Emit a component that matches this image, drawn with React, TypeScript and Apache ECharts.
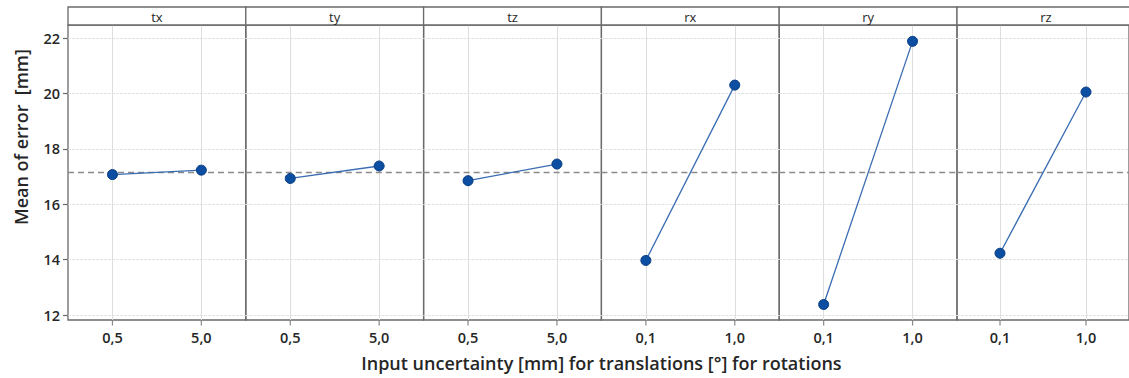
import React, { useEffect, useRef } from 'react';
import * as echarts from 'echarts';

const factors = ['tx', 'ty', 'tz', 'rx', 'ry', 'rz'];
const translationLevels = ['0,5', '5,0'];
const rotationLevels = ['0,1', '1,0'];
const txMeans = [17.07, 17.23];
const tyMeans = [16.93, 17.38];
const tzMeans = [16.85, 17.45];
const rxMeans = [13.97, 20.3];
const ryMeans = [12.38, 21.88];
const rzMeans = [14.23, 20.05];
const yTicks = [12, 14, 16, 18, 20, 22];
const yTitle = 'Mean of error  [mm]';
const xTitle = 'Input uncertainty [mm] for translations [°] for rotations';

const panelMeans = [txMeans, tyMeans, tzMeans, rxMeans, ryMeans, rzMeans];
const panelLevels = [
  translationLevels,
  translationLevels,
  translationLevels,
  rotationLevels,
  rotationLevels,
  rotationLevels,
];

const FONT = '"Open Sans", "Noto Sans", sans-serif';
const LEFT = 68;
const PANEL_W = 177.8;
const STRIP_TOP = 7;
const TOP = 25;
const BOTTOM = 320;
const Y_MIN = 11.82;
const Y_MAX = 22.47;
const TEXT = '#262626';
const BORDER = '#6a6a6a';

export default function App() {
  const ref = useRef<HTMLDivElement>(null);

  useEffect(() => {
    if (!ref.current) return;
    const chart = echarts.init(ref.current, null, { renderer: 'svg' });
    const all = panelMeans.flat();
    const grandMean = all.reduce((a, b) => a + b, 0) / all.length;

    const grid = factors.map((_, i) => ({
      left: LEFT + i * PANEL_W,
      top: TOP,
      width: PANEL_W,
      height: BOTTOM - TOP,
      show: true,
      borderColor: BORDER,
      borderWidth: 1.3,
      backgroundColor: 'transparent',
    }));

    const xAxis = factors.map((_, i) => ({
      type: 'category',
      gridIndex: i,
      data: panelLevels[i],
      boundaryGap: true,
      axisLine: { show: false },
      axisTick: { show: false },
      axisLabel: { color: TEXT, fontSize: 14.5, fontWeight: 600, fontFamily: FONT, margin: 10 },
      splitLine: { show: true, alignWithLabel: true, lineStyle: { color: '#dedede', width: 1 } },
    }));

    const yAxis = factors.map((_, i) => ({
      type: 'value',
      gridIndex: i,
      min: Y_MIN,
      max: Y_MAX,
      axisLine: { show: false },
      axisTick: {
        show: i === 0,
        length: 5,
        customValues: yTicks,
        lineStyle: { color: BORDER, width: 1.2 },
      },
      axisLabel: {
        show: i === 0,
        customValues: yTicks,
        color: TEXT,
        fontSize: 14.5,
        fontWeight: 600,
        fontFamily: FONT,
        margin: 8,
      },
      splitLine: { show: true, lineStyle: { color: '#e2e2e2', width: 1, type: [3, 1] } },
    }));

    const series: any[] = [];
    factors.forEach((f, i) => {
      series.push({
        name: f,
        type: 'line',
        xAxisIndex: i,
        yAxisIndex: i,
        data: panelMeans[i],
        symbol: 'circle',
        symbolSize: 10,
        itemStyle: { color: '#0b4ea2', borderColor: '#0a3c80', borderWidth: 1 },
        lineStyle: { color: '#3a6cb2', width: 1.3 },
        z: 3,
        markLine: {
          silent: true,
          symbol: 'none',
          label: { show: false },
          lineStyle: { color: '#8a8a8a', type: [6, 4], width: 1.3 },
          data: [{ yAxis: grandMean }],
          z: 2,
        },
      });
      // x-axis tick marks at each level, hanging below the panel
      series.push({
        type: 'scatter',
        xAxisIndex: i,
        yAxisIndex: i,
        data: panelLevels[i].map((lv) => [lv, Y_MIN]),
        symbol: 'rect',
        symbolSize: [1.2, 5],
        symbolOffset: [0, 3],
        itemStyle: { color: BORDER },
        silent: true,
        clip: false,
        z: 1,
      });
    });

    const graphic: any[] = [];
    factors.forEach((f, i) => {
      graphic.push({
        type: 'rect',
        shape: { x: LEFT + i * PANEL_W, y: STRIP_TOP, width: PANEL_W, height: TOP - STRIP_TOP },
        style: { fill: '#ffffff', stroke: BORDER, lineWidth: 1.3 },
        z: 10,
      });
      graphic.push({
        type: 'text',
        x: LEFT + i * PANEL_W + PANEL_W / 2,
        y: (STRIP_TOP + TOP) / 2 + 1,
        style: {
          text: f,
          fill: TEXT,
          fontSize: 13,
          fontFamily: FONT,
          textAlign: 'center',
          textVerticalAlign: 'middle',
        },
        z: 11,
      });
    });
    graphic.push({
      type: 'text',
      x: LEFT + 3 * PANEL_W,
      y: 363,
      style: {
        text: xTitle,
        fill: TEXT,
        fontSize: 18,
        fontWeight: 600,
        fontFamily: FONT,
        textAlign: 'center',
        textVerticalAlign: 'middle',
      },
    });
    graphic.push({
      type: 'text',
      x: 21,
      y: 137,
      rotation: Math.PI / 2,
      style: {
        text: yTitle,
        fill: TEXT,
        fontSize: 18,
        fontWeight: 600,
        fontFamily: FONT,
        textAlign: 'center',
        textVerticalAlign: 'middle',
      },
    });

    chart.setOption({
      animation: false,
      backgroundColor: '#ffffff',
      grid,
      xAxis,
      yAxis,
      series,
      graphic,
    });

    return () => chart.dispose();
  }, []);

  return (
    <div
      ref={ref}
      style={{ position: 'absolute', left: 0, top: 0, width: 1129, height: 378 }}
    />
  );
}
